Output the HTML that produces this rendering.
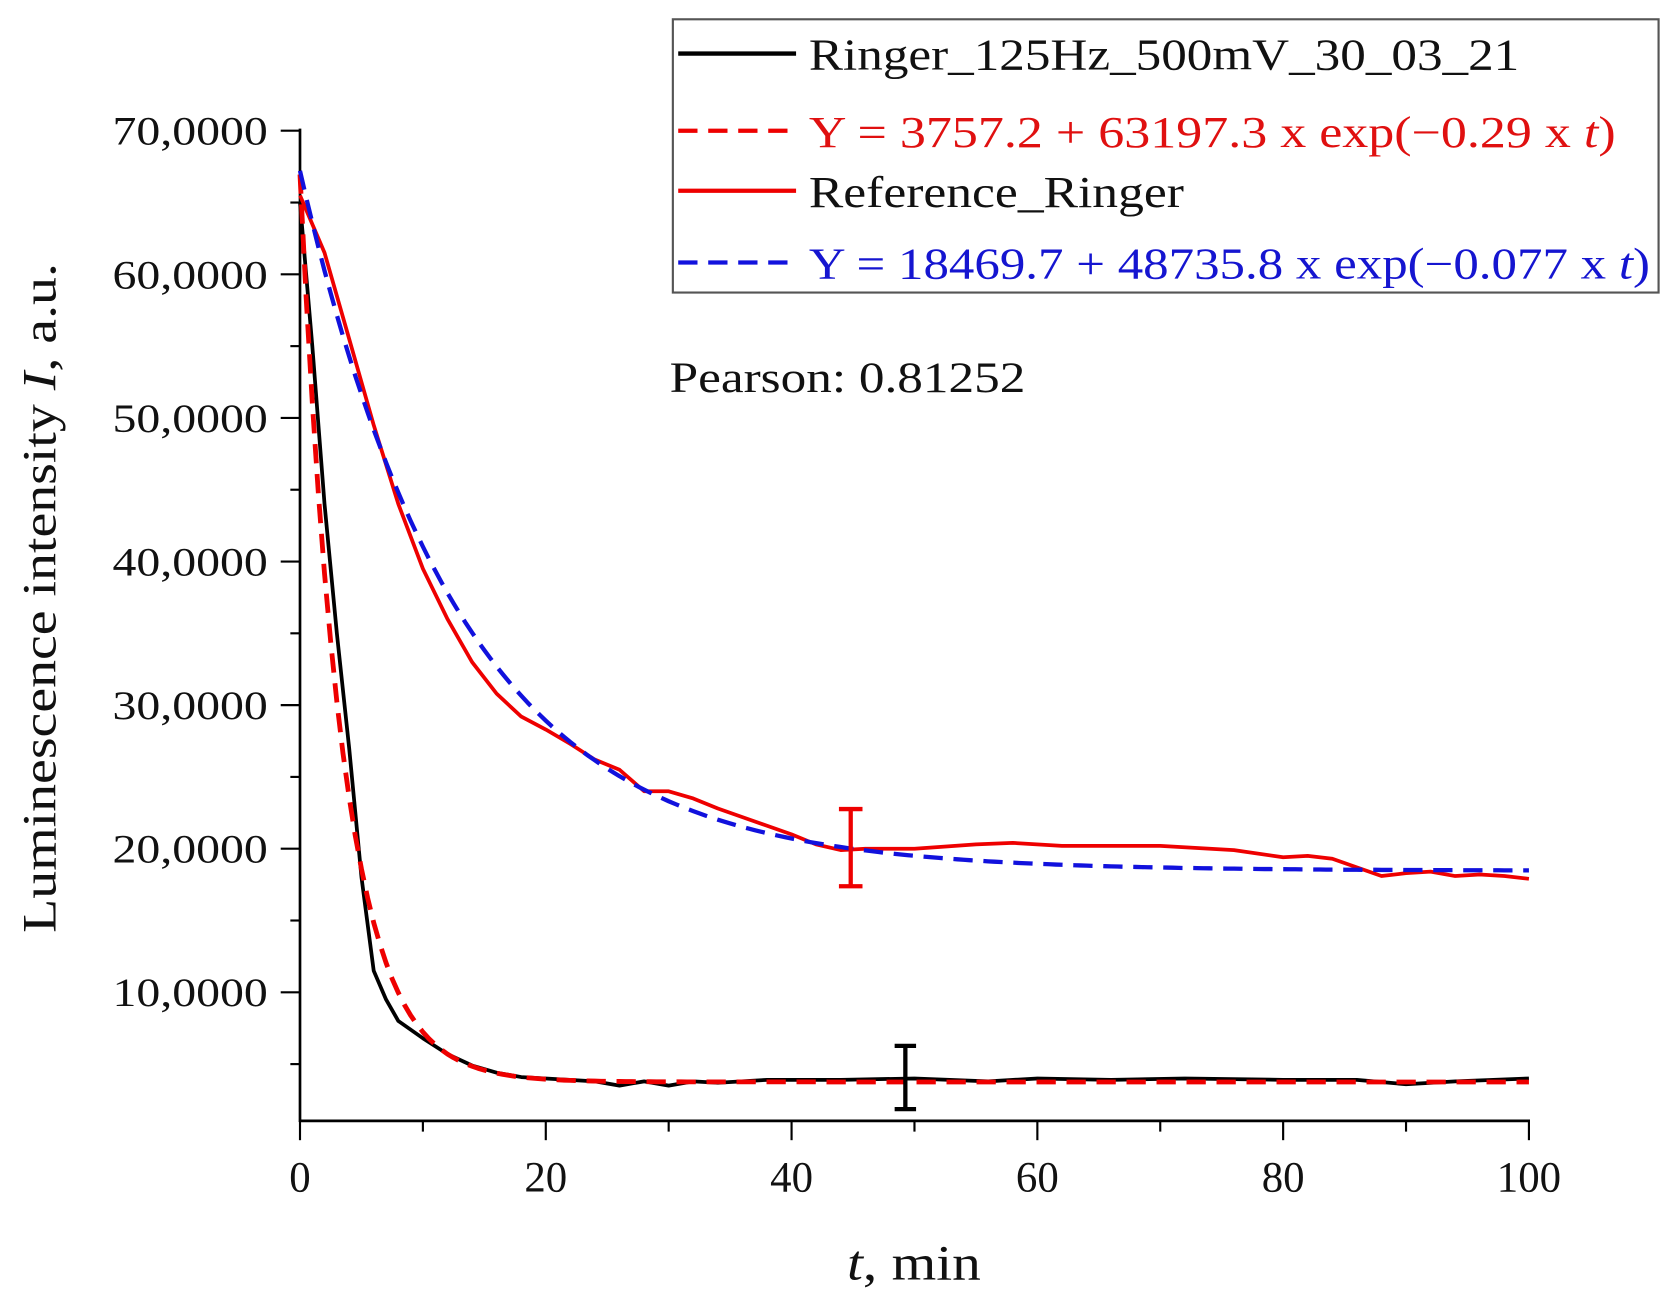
<!DOCTYPE html>
<html><head><meta charset="utf-8"><style>
html,body{margin:0;padding:0;background:#fff}
svg{display:block}
text{font-family:"Liberation Serif",serif}
</style></head><body>
<svg id="s" width="1680" height="1302" viewBox="0 0 1568 1215" preserveAspectRatio="none" xmlns="http://www.w3.org/2000/svg">
<g id="g"></g>
<rect x="628" y="18" width="920" height="255" fill="none" stroke="#555" stroke-width="2"/>
<line x1="633" y1="50" x2="743" y2="50" stroke="#000" stroke-width="4"/>
<text x="755" y="65" font-size="41" fill="#111" textLength="663" lengthAdjust="spacingAndGlyphs">Ringer_125Hz_500mV_30_03_21</text>
<line x1="633" y1="122" x2="743" y2="122" stroke="#e00" stroke-width="4" stroke-dasharray="18,10"/>
<text x="755" y="137" font-size="41" fill="#e01010" textLength="753" lengthAdjust="spacingAndGlyphs">Y = 3757.2 + 63197.3 x exp(−0.29 x <tspan font-style="italic">t</tspan>)</text>
<line x1="633" y1="178" x2="743" y2="178" stroke="#e00" stroke-width="4"/>
<text x="755" y="193" font-size="41" fill="#111" textLength="350" lengthAdjust="spacingAndGlyphs">Reference_Ringer</text>
<line x1="633" y1="245" x2="743" y2="245" stroke="#11d" stroke-width="4" stroke-dasharray="18,10"/>
<text x="755" y="260" font-size="41" fill="#1515d0" textLength="785" lengthAdjust="spacingAndGlyphs">Y = 18469.7 + 48735.8 x exp(−0.077 x <tspan font-style="italic">t</tspan>)</text>
<text x="625" y="366" font-size="40" fill="#111" textLength="332" lengthAdjust="spacingAndGlyphs">Pearson: 0.81252</text>
<text transform="translate(52,558) rotate(-90)" font-size="44" text-anchor="middle" fill="#111" textLength="625" lengthAdjust="spacingAndGlyphs">Luminescence intensity <tspan font-style="italic">I</tspan>, a.u.</text>
<text x="853" y="1194" font-size="46" text-anchor="middle" fill="#111" textLength="125" lengthAdjust="spacingAndGlyphs"><tspan font-style="italic">t</tspan>, min</text>
</svg>
<script>
var g=document.getElementById('g'),h='';
function X(t){return 280+11.47*t}function Y(v){return 1060-0.0134*v}
function path(pts,c,w,d){return '<path d="M'+pts.map(p=>X(p[0]).toFixed(1)+','+Y(p[1]).toFixed(1)).join('L')+'" fill="none" stroke="'+c+'" stroke-width="'+w+'"'+(d?' stroke-dasharray="'+d+'"':'')+' stroke-linejoin="round"/>';}
h+='<line x1="280" y1="120" x2="280" y2="1047" stroke="#000" stroke-width="2.5"/><line x1="279" y1="1046" x2="1428" y2="1046" stroke="#000" stroke-width="2.5"/>';
for(var i=1;i<=7;i++){var y=Y(i*10000);h+='<line x1="262" y1="'+y+'" x2="280" y2="'+y+'" stroke="#000" stroke-width="2"/>';h+='<text x="250" y="'+(y+13)+'" font-size="38" text-anchor="end" fill="#111" textLength="145" lengthAdjust="spacingAndGlyphs">'+i+'0,0000</text>';}
for(var i=0;i<7;i++){var y=Y(i*10000+5000);h+='<line x1="271" y1="'+y+'" x2="280" y2="'+y+'" stroke="#000" stroke-width="2"/>';}
for(var t=0;t<=100;t+=10){var x=X(t);var maj=t%20==0;h+='<line x1="'+x+'" y1="1046" x2="'+x+'" y2="'+(maj?1064:1056)+'" stroke="#000" stroke-width="2"/>';if(maj)h+='<text x="'+x+'" y="1112" font-size="40" text-anchor="middle" fill="#111">'+t+'</text>';}
var R=[[0,65500],[2,61500],[4,55500],[6,49500],[8,44000],[10,39500],[12,36000],[14,33000],[16,30800],[18,29200],[20,28300],[22,27300],[24,26200],[26,25500],[28,24000],[30,24000],[32,23500],[34,22800],[36,22200],[38,21600],[40,21000],[42,20300],[44,19900],[46,20000],[50,20000],[55,20300],[58,20400],[62,20200],[70,20200],[76,19900],[80,19400],[82,19500],[84,19300],[86,18700],[88,18100],[90,18300],[92,18400],[94,18100],[96,18200],[98,18100],[100,17900]];
var B=[],F=[];for(var t=0;t<=100;t+=0.5){B.push([t,18469.7+48735.8*Math.exp(-0.077*t)]);F.push([t,3757.2+63197.3*Math.exp(-0.29*t)]);}
var K=[[0,65000],[1,55000],[2,44000],[3,35000],[4,27000],[5,18000],[6,11500],[7,9500],[8,8000],[10,6800],[12,5700],[14,4900],[16,4400],[18,4100],[20,4000],[24,3800],[26,3500],[28,3800],[30,3500],[32,3800],[34,3700],[38,3900],[44,3900],[50,4000],[56,3800],[60,4000],[66,3900],[72,4000],[80,3900],[86,3900],[90,3600],[94,3800],[100,4000]];
h+=path(K,'#000',3.5);
h+=path(F,'#e00',4.5,'18,10');
h+=path(R,'#e00',3.5);
h+=path(B,'#11d',4,'18,10');
h+='<g stroke="#e00" stroke-width="4"><line x1="794" y1="755" x2="794" y2="827"/><line x1="783" y1="755" x2="805" y2="755"/><line x1="783" y1="827" x2="805" y2="827"/></g>';
h+='<g stroke="#000" stroke-width="4"><line x1="845" y1="976" x2="845" y2="1035"/><line x1="835" y1="976" x2="855" y2="976"/><line x1="835" y1="1035" x2="855" y2="1035"/></g>';
g.innerHTML=h;
</script>
</body></html>
